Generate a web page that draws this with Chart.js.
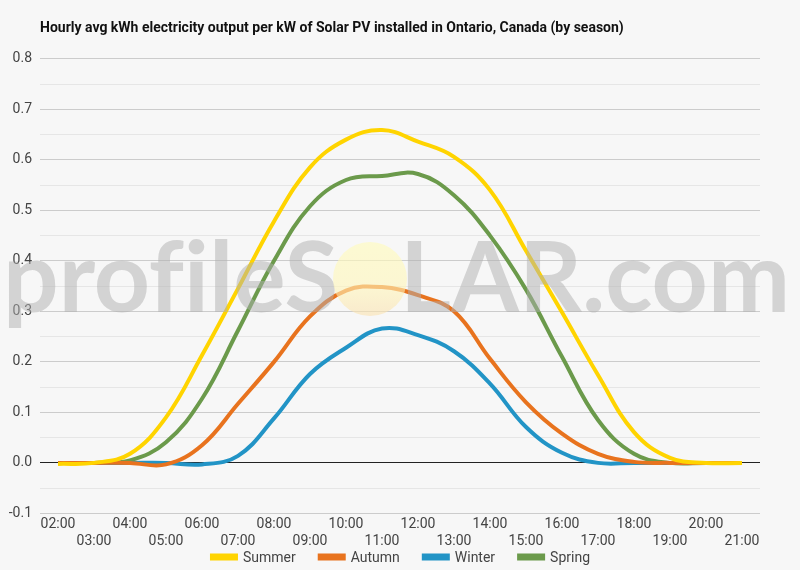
<!DOCTYPE html>
<html>
<head>
<meta charset="utf-8">
<script src="https://cdn.jsdelivr.net/npm/chart.js@4.4.1/dist/chart.umd.min.js"></script>
<style>
  html, body { margin: 0; padding: 0; background: #f7f7f7; }
  #wrap { width: 800px; height: 570px; }
</style>
</head>
<body>
<div id="wrap"><canvas id="myChart"></canvas></div>
<script>
// hourly values
var hours = ['02:00', '03:00', '04:00', '05:00', '06:00', '07:00', '08:00', '09:00', '10:00', '11:00',
             '12:00', '13:00', '14:00', '15:00', '16:00', '17:00', '18:00', '19:00', '20:00', '21:00'];
var summer = [-0.002, 0.0, 0.018, 0.09, 0.213, 0.345, 0.478, 0.585, 0.64, 0.659,
              0.636, 0.606, 0.54, 0.42, 0.298, 0.174, 0.061, 0.01, 0.0, 0.0];
var autumn = [0.0, 0.0, 0.0, -0.003, 0.035, 0.117, 0.2, 0.29, 0.341, 0.348,
              0.332, 0.3, 0.206, 0.12, 0.058, 0.018, 0.002, 0.0, 0.0, 0.0];
var winter = [0.0, 0.0, 0.0, 0.0, -0.003, 0.014, 0.088, 0.176, 0.228, 0.266,
              0.253, 0.221, 0.157, 0.071, 0.02, 0.0, 0.0, 0.0, 0.0, 0.0];
var spring = [0.0, 0.0, 0.005, 0.041, 0.127, 0.262, 0.4, 0.508, 0.56, 0.568,
              0.572, 0.53, 0.45, 0.343, 0.21, 0.085, 0.018, 0.0, 0.0, 0.0];
var seriesNames = ['Summer', 'Autumn', 'Winter', 'Spring'];
var seriesColors = ['#ffd400', '#e8731e', '#2294c6', '#6b9a4b'];

var watermark = {
    id: 'watermark',
    afterDraw: function (chart) {
        var ctx = chart.ctx;
        ctx.save();
        ctx.font = 'bold 98px Lato';
        ctx.fillStyle = 'rgba(175, 175, 175, 0.5)';
        ctx.textBaseline = 'alphabetic';
        // zero-width non-joiner keeps "f" and "i" apart
        ctx.fillText('prof\u200CileS', 3, 312);
        ctx.fillText('LAR.com', 400, 312);
        var g = ctx.createLinearGradient(0, 242, 0, 316);
        g.addColorStop(0, 'rgba(255, 251, 190, 0.65)');
        g.addColorStop(0.6, 'rgba(255, 246, 185, 0.6)');
        g.addColorStop(1, 'rgba(250, 225, 175, 0.6)');
        ctx.fillStyle = g;
        ctx.beginPath();
        ctx.ellipse(370, 279, 37, 37, 0, 0, Math.PI * 2);
        ctx.fill();
        ctx.restore();
    }
};

// legend drawn by hand so the spacing can match
var bottomLegend = {
    id: 'bottomLegend',
    afterDraw: function (chart) {
        var ctx = chart.ctx;
        ctx.save();
        ctx.font = '14px Roboto';
        ctx.textBaseline = 'middle';
        var boxW = 28, gapText = 5, gapItem = 22, y = 557;
        var widths = seriesNames.map(function (n) { return ctx.measureText(n).width; });
        var total = 0;
        widths.forEach(function (w) { total += boxW + gapText + w; });
        total += gapItem * (seriesNames.length - 1);
        var x = 400 - total / 2;
        seriesNames.forEach(function (n, i) {
            ctx.fillStyle = seriesColors[i];
            ctx.fillRect(x, y - 3.5, boxW, 7);
            ctx.fillStyle = '#444';
            ctx.fillText(n, x + boxW + gapText, y + 1);
            x += boxW + gapText + widths[i] + gapItem;
        });
        ctx.restore();
    }
};

var bg = {
    id: 'bg',
    beforeDraw: function (chart) {
        var ctx = chart.ctx;
        ctx.save();
        ctx.fillStyle = '#f7f7f7';
        ctx.fillRect(0, 0, chart.width, chart.height);
        ctx.restore();
    }
};

var datasets = [summer, autumn, winter, spring].map(function (vals, i) {
    return {
        label: seriesNames[i],
        data: vals,
        borderColor: seriesColors[i],
        backgroundColor: seriesColors[i],
        borderWidth: 4,
        pointRadius: 0,
        tension: 0.4,
        fill: false
    };
});

Chart.defaults.font.family = 'Roboto';

var ctx = document.getElementById('myChart').getContext('2d');
window.myChart = new Chart(ctx, {
    type: 'line',
    data: { labels: hours, datasets: datasets },
    plugins: [bg, watermark, bottomLegend],
    options: {
        responsive: true,
        maintainAspectRatio: false,
        animation: false,
        layout: { padding: { left: 0, right: 0, top: 20, bottom: 17 } },
        plugins: {
            title: {
                display: true,
                fullSize: false,
                align: 'start',
                text: 'Hourly avg kWh electricity output per kW of Solar PV installed in Ontario, Canada (by season)',
                color: '#111',
                font: { size: 14, weight: 'bold' },
                padding: { top: 0, bottom: 22 }
            },
            legend: { display: false },
            tooltip: { enabled: false }
        },
        scales: {
            x: {
                offset: true,
                grid: { display: false, drawTicks: false },
                border: { display: false },
                ticks: {
                    autoSkip: false,
                    maxRotation: 0,
                    color: '#444',
                    font: { size: 14 },
                    padding: 3,
                    callback: function (v, i) {
                        var l = this.getLabelForValue(v);
                        return i % 2 === 0 ? [l, ''] : ['', l];
                    }
                }
            },
            y: {
                min: -0.1,
                max: 0.8,
                afterFit: function (scale) { scale.width = 40; },
                border: { display: false },
                grid: {
                    drawTicks: false,
                    lineWidth: 1,
                    color: function (c) {
                        var v = Math.round(c.tick.value * 100);
                        if (v === 0) return '#222';
                        return v % 10 === 0 ? '#cccccc' : '#e6e6e6';
                    }
                },
                ticks: {
                    stepSize: 0.05,
                    color: '#444',
                    font: { size: 14 },
                    padding: 8,
                    callback: function (v) {
                        var n = Math.round(v * 100);
                        return n % 10 === 0 ? (n / 100).toFixed(1) : '';
                    }
                }
            },
            yRight: {
                position: 'right',
                display: true,
                afterFit: function (scale) { scale.width = 40; },
                grid: { display: false },
                border: { display: false },
                ticks: { display: false }
            }
        }
    }
});
</script>
</body>
</html>
